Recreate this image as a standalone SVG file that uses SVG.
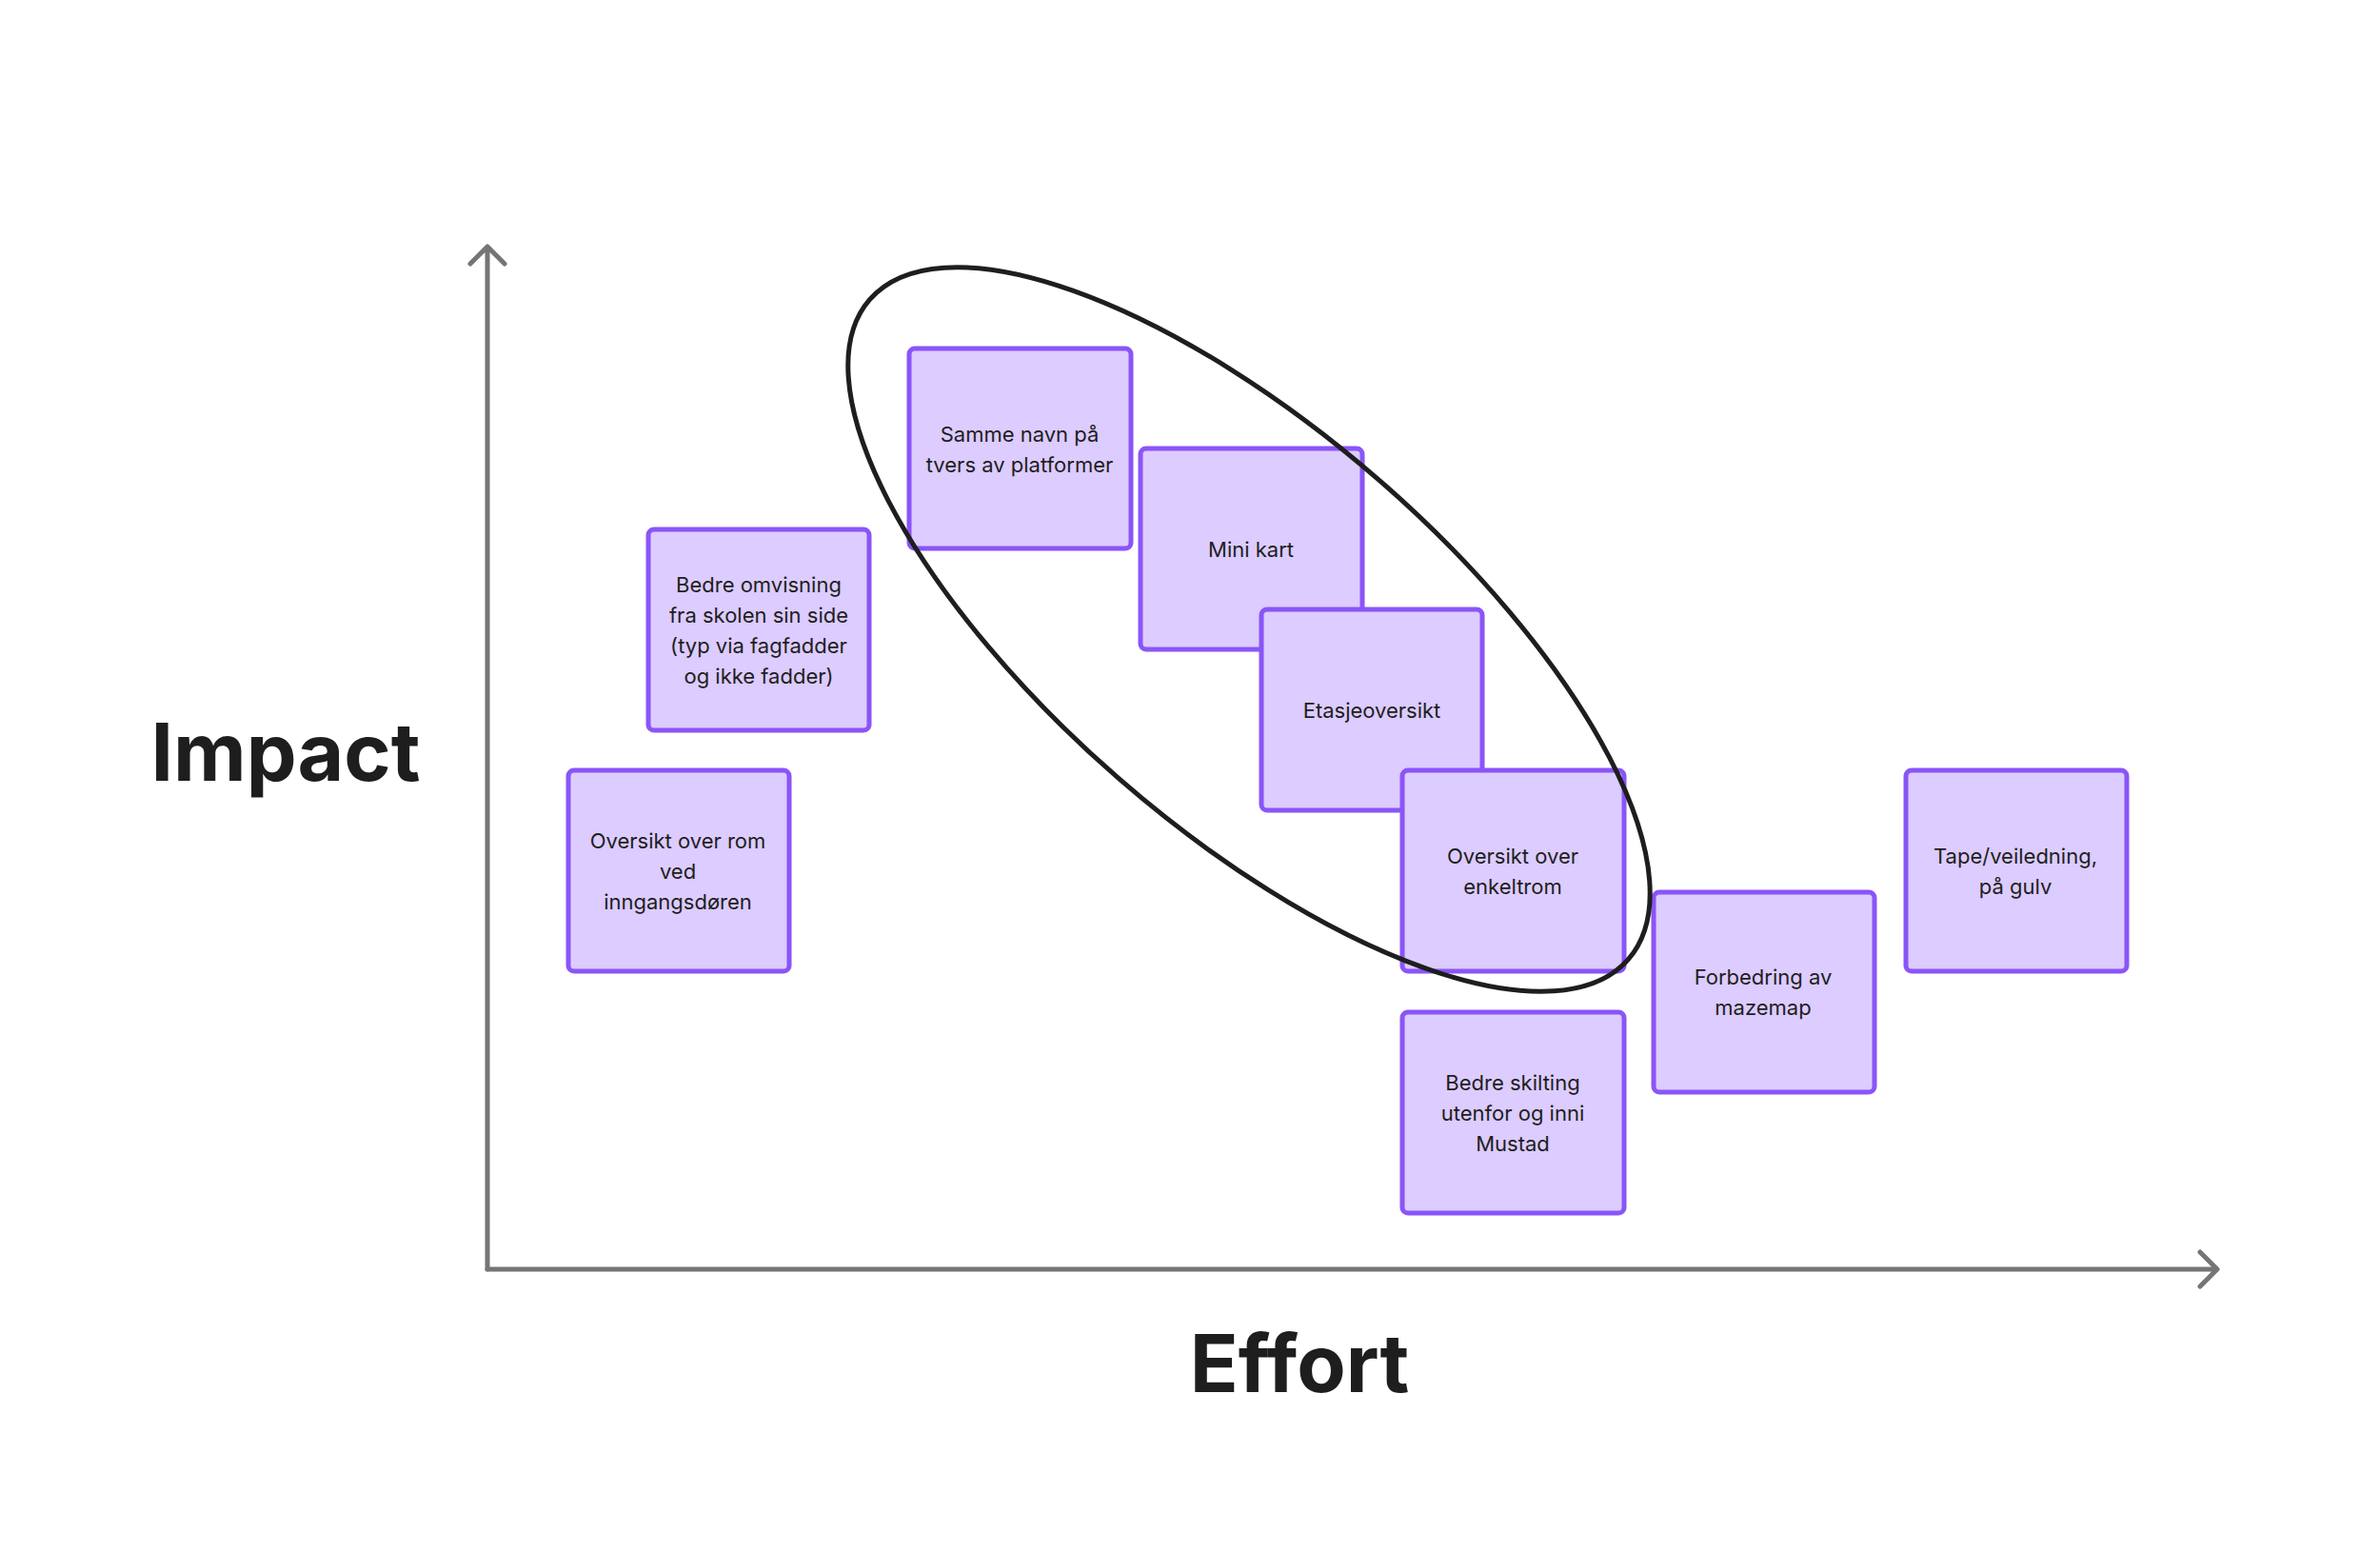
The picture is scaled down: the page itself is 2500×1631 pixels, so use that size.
<svg xmlns="http://www.w3.org/2000/svg" width="2500" height="1631" viewBox="0 0 2500 1631">
<style>
.n rect{fill:#dcccff;stroke:#8a55f7;stroke-width:5}
.n text{font-family:Inter,"Liberation Sans",sans-serif;font-size:22px;fill:#1e1e1e;text-anchor:middle;dominant-baseline:central}
.ax{stroke:#757575;stroke-width:5;fill:none;stroke-linecap:round;stroke-linejoin:round}
.big{font-family:Inter,"Liberation Sans",sans-serif;font-weight:700;font-size:84px;fill:#1e1e1e}
</style>
<rect width="2500" height="1631" fill="#fff"/>
<g id="connectors">
<path class="ax" d="M512 1333V260M494 277L512 259L530 277"/>
<path class="ax" d="M512 1333H2328M2311 1315L2329 1333L2311 1351"/>
</g>
<text class="big" x="300" y="820" text-anchor="middle">Impact</text>
<text class="big" x="1365" y="1462" text-anchor="middle">Effort</text>
<g id="n1" class="n"><rect x="955" y="366" width="233" height="210" rx="6"/><text x="1071" y="456">Samme navn på</text><text x="1071" y="488">tvers av platformer</text></g>
<g id="n2" class="n"><rect x="1198" y="471" width="233" height="211" rx="6"/><text x="1314" y="577">Mini kart</text></g>
<g id="n3" class="n"><rect x="1325" y="640" width="232" height="211" rx="6"/><text x="1441" y="746">Etasjeoversikt</text></g>
<g id="n4" class="n"><rect x="1473" y="809" width="233" height="211" rx="6"/><text x="1589" y="899">Oversikt over</text><text x="1589" y="931">enkeltrom</text></g>
<g id="n5" class="n"><rect x="681" y="556" width="232" height="211" rx="6"/><text x="797" y="614">Bedre omvisning</text><text x="797" y="646">fra skolen sin side</text><text x="797" y="678">(typ via fagfadder</text><text x="797" y="710">og ikke fadder)</text></g>
<g id="n6" class="n"><rect x="597" y="809" width="232" height="211" rx="6"/><text x="712" y="883">Oversikt over rom</text><text x="712" y="915">ved</text><text x="712" y="947">inngangsdøren</text></g>
<g id="n7" class="n"><rect x="1473" y="1063" width="233" height="211" rx="6"/><text x="1589" y="1137">Bedre skilting</text><text x="1589" y="1169">utenfor og inni</text><text x="1589" y="1201">Mustad</text></g>
<g id="n8" class="n"><rect x="1737" y="937" width="232" height="210" rx="6"/><text x="1852" y="1026">Forbedring av</text><text x="1852" y="1058">mazemap</text></g>
<g id="n9" class="n"><rect x="2002" y="809" width="232" height="211" rx="6"/><text x="2117" y="899">Tape/veiledning,</text><text x="2117" y="931">på gulv</text></g>
<ellipse id="circle" cx="1312" cy="661" rx="528" ry="208" transform="rotate(41 1312 661)" fill="none" stroke="#1e1e1e" stroke-width="5"/>
</svg>
